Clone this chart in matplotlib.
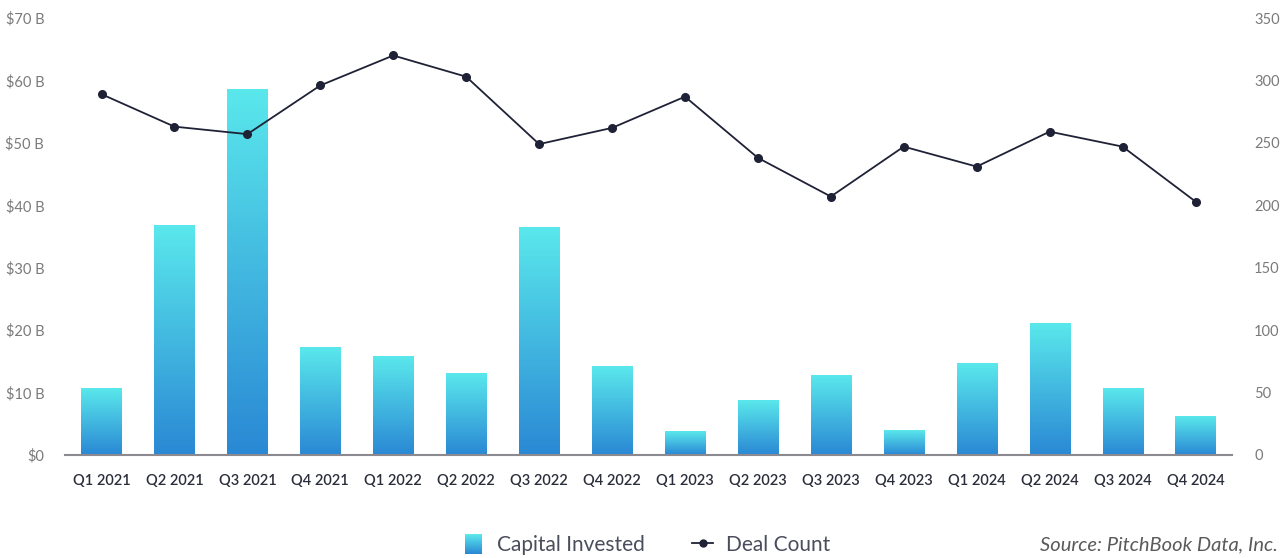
import numpy as np
import matplotlib.pyplot as plt
from matplotlib.colors import LinearSegmentedColormap
from matplotlib.legend_handler import HandlerBase
from matplotlib.patches import Rectangle
from matplotlib.lines import Line2D

plt.rcParams['font.family'] = ['Lato', 'DejaVu Sans']

quarters = ['Q1 2021', 'Q2 2021', 'Q3 2021', 'Q4 2021',
            'Q1 2022', 'Q2 2022', 'Q3 2022', 'Q4 2022',
            'Q1 2023', 'Q2 2023', 'Q3 2023', 'Q4 2023',
            'Q1 2024', 'Q2 2024', 'Q3 2024', 'Q4 2024']
capital_invested = [10.6, 36.7, 58.6, 17.3, 15.7, 13.1, 36.4, 14.1,
                    3.7, 8.7, 12.7, 4.0, 14.6, 21.0, 10.7, 6.2]
deal_count = [289, 263, 257, 296, 320, 303, 249, 262,
              287, 238, 207, 247, 231, 259, 247, 203]
left_ticks = [0, 10, 20, 30, 40, 50, 60, 70]
left_labels = ['$0', '$10 B', '$20 B', '$30 B', '$40 B', '$50 B', '$60 B', '$70 B']
right_ticks = [0, 50, 100, 150, 200, 250, 300, 350]

top_col = '#5ae8ec'
bot_col = '#2a88d4'
grad = LinearSegmentedColormap.from_list('grad', [bot_col, top_col])
line_col = '#1f2236'

fig = plt.figure(figsize=(12.88, 5.58), dpi=100)
ax = fig.add_axes([0.0505, 0.1846, 0.906, 0.7831])
x = np.arange(len(quarters))

bars = ax.bar(x, capital_invested, width=0.55, color='none')
g = np.linspace(0, 1, 256).reshape(-1, 1)
for b in bars:
    x0, y0 = b.get_x(), b.get_y()
    ax.imshow(g, cmap=grad, origin='lower', aspect='auto',
              extent=[x0, x0 + b.get_width(), y0, y0 + b.get_height()], zorder=2)

ax.set_xlim(-0.5, len(quarters) - 0.5)
ax.set_ylim(0, 70)
ax.set_yticks(left_ticks)
ax.set_yticklabels(left_labels)
ax.set_xticks(x)
ax.set_xticklabels(quarters, fontweight='semibold')
for s in ['top', 'left', 'right']:
    ax.spines[s].set_visible(False)
ax.spines['bottom'].set_color('#8a8a90')
ax.spines['bottom'].set_linewidth(1.5)
ax.spines['bottom'].set_zorder(3)
ax.tick_params(axis='y', length=0, pad=15, labelsize=10.5, labelcolor='#7a7a7a')
ax.tick_params(axis='x', length=0, pad=14, labelsize=10.5, labelcolor='#2a2d3a')

ax2 = ax.twinx()
ax2.plot(x, deal_count, color=line_col, lw=1.3, marker='o', markersize=5.5)
ax2.set_ylim(0, 350)
ax2.set_yticks(right_ticks)
for s in ['top', 'left', 'right', 'bottom']:
    ax2.spines[s].set_visible(False)
ax2.tick_params(axis='y', length=0, pad=16, labelsize=10.5, labelcolor='#7a7a7a')


class GradHandler(HandlerBase):
    def create_artists(self, legend, orig, xd, yd, w, h, fontsize, trans):
        n = 20
        arts = []
        side = h * 1.35
        x0 = xd + (w - side * 0.9) / 2
        for i in range(n):
            c = grad(i / (n - 1))
            r = Rectangle((x0, yd - side * 0.18 + side * i / n), side * 0.9, side / n + 0.3,
                          facecolor=c, edgecolor='none', transform=trans)
            arts.append(r)
        return arts


patch = Rectangle((0, 0), 1, 1)
ln = Line2D([], [], color=line_col, lw=1.3, marker='o', markersize=5)
leg = fig.legend([patch, ln], ['Capital Invested', 'Deal Count'],
                 handler_map={Rectangle: GradHandler()},
                 loc='center', bbox_to_anchor=(0.502, 0.024), ncol=2, frameon=False,
                 fontsize=15, handlelength=1.0, columnspacing=2.3, handletextpad=0.6)
for t in leg.get_texts():
    t.set_color('#4a4e5c')

fig.text(0.992, 0.024, 'Source: PitchBook Data, Inc.', ha='right', va='center',
         fontsize=14.5, style='italic', color='#5a5a5a')

fig.savefig('out.png', dpi=100)
